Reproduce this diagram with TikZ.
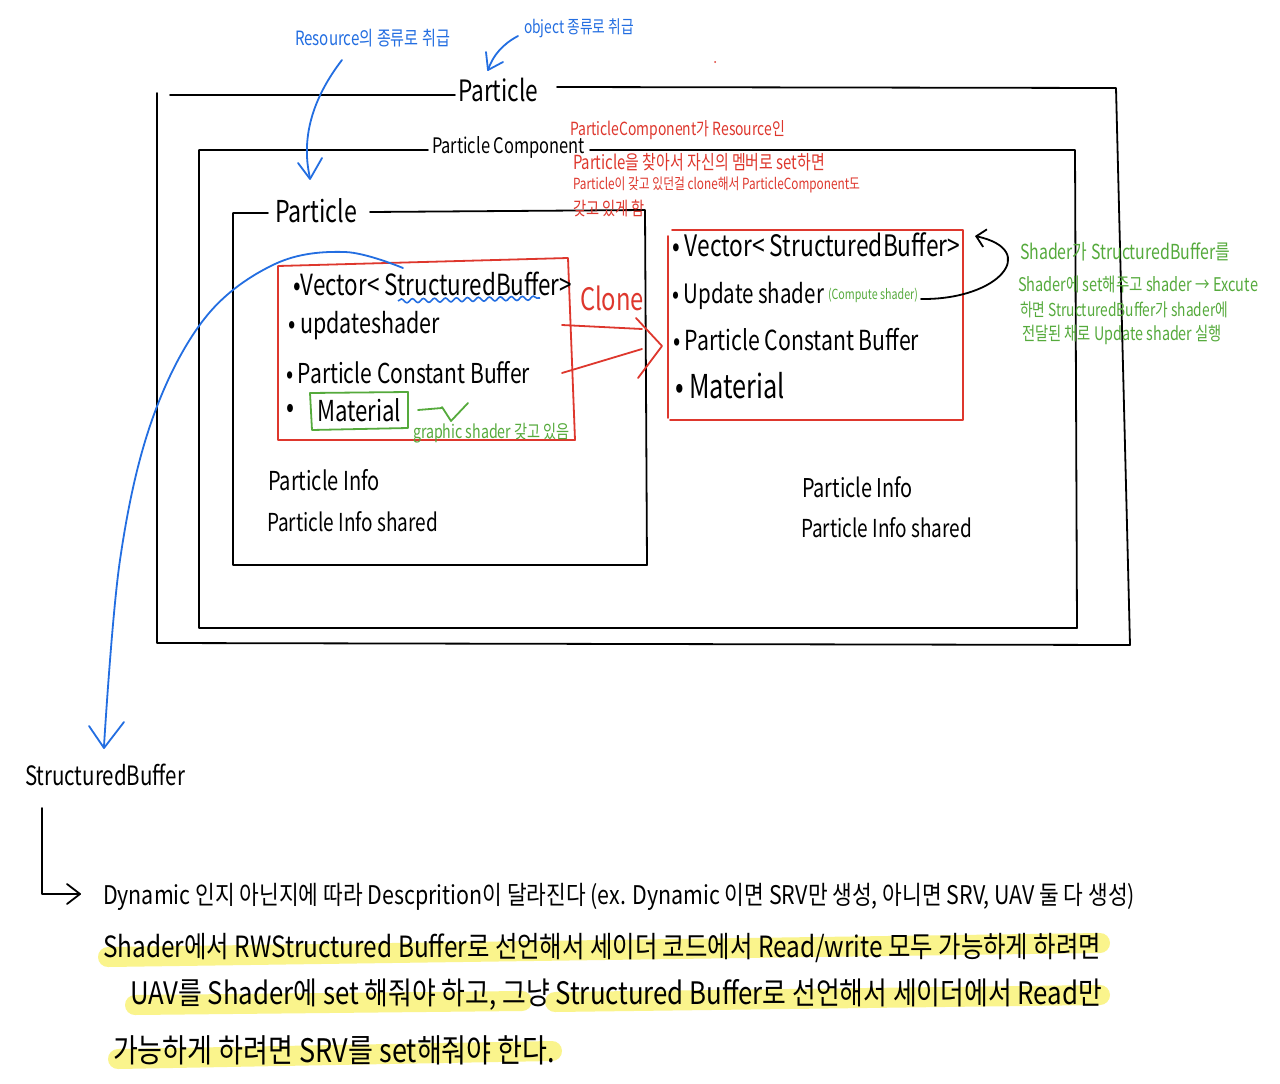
\documentclass[tikz,border=0pt]{standalone}
\usepackage{fontspec}
\setmainfont{Noto Sans CJK KR}
\usetikzlibrary{decorations.pathmorphing,arrows.meta}
\definecolor{penblue}{RGB}{35,110,225}
\definecolor{penred}{RGB}{222,55,45}
\definecolor{pengreen}{RGB}{85,170,60}
\definecolor{hl}{RGB}{250,244,140}
\newcommand\fw[3][1.3]{\scalebox{1}[#1]{\resizebox{#2pt}{!}{#3}}}
\begin{document}
\begin{tikzpicture}[x=1pt,y=-1pt,
  txt/.style={anchor=west,inner sep=0pt,outer sep=0pt},
  ink/.style={line width=1.8pt,line cap=round,line join=round},
  redink/.style={ink,draw=penred},
  blueink/.style={ink,draw=penblue},
  greenink/.style={ink,draw=pengreen},
  hlstroke/.style={line width=20pt,draw=hl,line cap=round}]
\useasboundingbox (0,0) rectangle (1280,1084);
\fill[white] (0,0) rectangle (1280,1084);

% highlights
\draw[hlstroke] (108,957) -- (1100,943);
\draw[hlstroke] (135,1005) -- (522,1001);
\draw[hlstroke] (555,1002) -- (1100,995);
\draw[hlstroke] (118,1059) -- (552,1051);

% outer box (Particle)
\draw[ink] (455,95) -- (170,95);
\draw[ink] (157,93) -- (157,643) -- (1130,645) -- (1116,88) -- (557,87);
% middle box (Particle Component)
\draw[ink] (428,150) -- (199,150) -- (199,628) -- (1077,628) -- (1075,150) -- (590,150);
% inner box (particle)
\draw[ink] (268,213) -- (233,213) -- (233,565) -- (647,565) -- (645,210) -- (370,212);

% box titles
\node[txt] (tOuter) at (458,90) {\fw{80}{Particle}};
\node[txt] (tComp) at (432,147) {\fw{153}{Particle Component}};
\node[txt] (tInner) at (275,211) {\fw{82}{Particle}};

% left red box
\draw[redink] (278,266) -- (568,258) -- (575,440) -- (278,440) -- cycle;
\node[txt] (lVec) at (293,284) {\fw{279}{•Vector< StructuredBuffer>}};
\node[txt] (lUpd) at (288,326) {\fw{152}{• updateshader}};
\node[txt] (lPcb) at (286,373) {\fw{244}{• Particle Constant Buffer}};
\node[txt] (lDot) at (286,411) {\fw{8}{•}};
\node[txt] (lMat) at (317,410) {\fw{84}{Material}};
\draw[greenink] (310,393) -- (408,392) -- (408,428) -- (312,430) -- cycle;
\draw[line width=1.6pt,draw=penblue,decorate,decoration={snake,amplitude=2pt,segment length=11pt}] (398,301) -- (540,298);

% green annotation on material
\coordinate (gA) at (418,410);
\coordinate (gB) at (442,408);
\draw[greenink] (gA) -- (gB);
\draw[greenink] (442,407) -- (451,421) -- (468,403);
\node[txt,text=pengreen] (gShader) at (413,433) {\fw{157}{graphic shader 갖고 있음}};

% info texts
\node[txt] (lInfo) at (268,480) {\fw{112}{Particle Info}};
\node[txt] (lInfoS) at (267,522) {\fw{171}{Particle Info shared}};
\node[txt] (rInfo) at (802,487) {\fw{111}{Particle Info}};
\node[txt] (rInfoS) at (801,528) {\fw{171}{Particle Info shared}};

% clone arrows
\node[txt,text=penred] (clone) at (580,298) {\fw{64}{Clone}};
\coordinate (c1) at (562,325);
\coordinate (c2) at (562,373);
\coordinate (ctip) at (662,346);
\draw[redink] (c1) -- (642,329);
\draw[redink] (c2) -- (642,349);
\draw[redink] (636,318) -- (ctip) -- (638,378);

% right red box
\draw[redink] (672,230) -- (963,230) -- (963,420) -- (670,420);
\draw[redink] (668,236) -- (668,418);
\node[txt] (rVec) at (672,245) {\fw{288}{• Vector< StructuredBuffer>}};
\node[txt] (rUpd) at (672,296) {\fw{152}{• Update shader}};
\node[txt,text=pengreen] (rComp) at (828,295) {\fw{90}{(Compute shader)}};
\node[txt] (rPcb) at (673,340) {\fw{246}{• Particle Constant Buffer}};
\node[txt] (rMat) at (675,386) {\fw{110}{• Material}};

% curved black arrow
\coordinate (kS) at (921,299);
\coordinate (kE) at (975,236);
\draw[ink,-{Straight Barb[length=9pt,width=18pt]}] (kS) .. controls (1000,300) and (1040,250) .. (kE);

% red annotation
\node[txt,text=penred] (r1) at (570,130) {\fw{215}{ParticleComponent가 Resource인}};
\node[txt,text=penred] (r2) at (573,162) {\fw{252}{Particle을 찾아서 자신의 멤버로 set하면}};
\node[txt,text=penred] (r3) at (573,185) {\fw{287}{Particle이 갖고 있던걸 clone해서 ParticleComponent도}};
\node[txt,text=penred] (r4) at (573,208) {\fw{72}{갖고 있게 함}};
\fill[penred] (715,62) circle (1pt);

% green annotation right
\node[txt,text=pengreen] (g1) at (1020,252) {\fw{210}{Shader가 StructuredBuffer를}};
\node[txt,text=pengreen] (g2) at (1018,284) {\fw{240}{Shader에 set해주고 shader → Excute}};
\node[txt,text=pengreen] (g3) at (1020,310) {\fw{208}{하면 StructuredBuffer가 shader에}};
\node[txt,text=pengreen] (g4) at (1022,335) {\fw{200}{전달된 채로 Update shader 실행}};

% blue annotations
\node[txt,text=penblue] (b1) at (295,38) {\fw{155}{Resource의 종류로 취급}};
\node[txt,text=penblue] (b2) at (524,28) {\fw{110}{object 종류로 취급}};
\draw[blueink] (342,60) .. controls (315,95) and (300,135) .. (310,178);
\draw[blueink] (298,163) -- (310,179) -- (322,158);
\draw[blueink] (518,36) .. controls (503,44) and (493,55) .. (488,70);
\draw[blueink] (486,52) -- (488,70) -- (503,62);

% long blue curve to StructuredBuffer
\coordinate (sbTip) at (104,748);
\draw[blueink] plot[smooth,tension=0.6] coordinates {(403,268) (345,252) (275,264) (205,318) (152,420) (120,560) (104,746)};
\draw[blueink] (89,726) -- (104,748) -- (124,722);
\node[txt] (sb) at (25,775) {\fw{160}{StructuredBuffer}};

% bottom connector
\coordinate (dTip) at (80,894);
\draw[ink] (42,808) -- (42,894) -- (dTip);
\draw[ink] (67,884) -- (dTip) -- (67,904);

% bottom texts
\node[txt] (t1) at (103,897) {\fw[1.2]{1032}{Dynamic 인지 아닌지에 따라 Descprition이 달라진다 (ex. Dynamic 이면 SRV만 생성, 아니면 SRV, UAV 둘 다 생성)}};
\node[txt] (t2) at (103,948) {\fw[1.2]{998}{Shader에서 RWStructured Buffer로 선언해서 세이더 코드에서 Read/write 모두 가능하게 하려면}};
\node[txt] (t3) at (130,995) {\fw[1.2]{972}{UAV를 Shader에 set 해줘야 하고, 그냥 Structured Buffer로 선언해서 세이더에서 Read만}};
\node[txt] (t4) at (113,1050) {\fw[1.2]{442}{가능하게 하려면 SRV를 set해줘야 한다.}};
\end{tikzpicture}
\end{document}
